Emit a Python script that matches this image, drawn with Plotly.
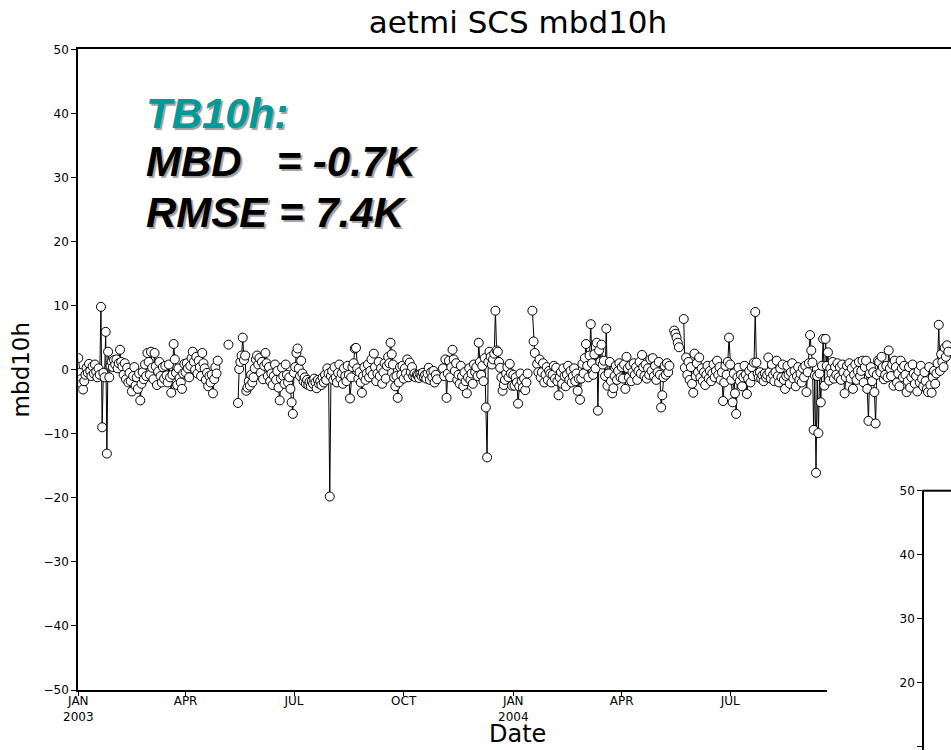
import pandas as pd
import plotly.graph_objects as go

# ---------------- data (daily mbd10h, K) ----------------
start_date = "2003-01-01"

mbd10h_2003 = [
    # Jan
    1.8, -0.5, -1.5, -2.2, -3.1, -1.8, -0.8, 0.3, -0.5, 0.9, -0.2, -1.0, 0.5, -0.6, 0.8, -0.3,
    -1.2, 0.2, -0.8, 9.8, -9.0, -0.5, -1.2, 5.9, -13.1, 2.8, -1.2, 0.6, 1.2, 0.4, 1.5,
    # Feb
    0.8, 1.6, 0.2, 1.0, 3.1, 1.2, 0.5, -0.8, 1.0, -1.5, 0.3, -2.0, -0.5, -1.8, -3.4, -1.0,
    0.4, -2.5, -1.2, -3.0, -0.6, -4.8, -2.2, -0.4, -1.5, 0.8, -1.0, 2.6,
    # Mar
    1.2, -0.8, 2.8, 0.3, -1.5, 2.6, 0.5, -2.4, -0.3, 1.2, -1.0, -2.0, 0.4, -1.4, 0.6, -0.9,
    -2.0, 0.8, -1.2, -3.6, -0.8, 4.0, 1.6, -0.5, -2.4, 0.2, -1.3, -2.0, -3.0, -0.6, 0.9,
    # Apr
    -0.4, 1.0, 0.2, -1.2, 0.6, 1.8, 2.8, 1.2, 0.0, 2.0, -0.6, 1.4, 0.4, -1.0, 2.6, 1.0,
    0.2, -1.6, -0.5, -2.6, -1.0, -2.0, -0.8, -3.7, -1.5, 0.4, -0.6, 1.4, None, None,
    # May
    None, None, None, None, None, None, 3.9, None, None, None, None, None, None, None, -5.2, 0.1,
    1.2, 2.2, 5.0, 1.5, 2.2, -3.3, -2.8, -1.8, -2.5, -0.8, -2.0, -1.2, 0.2, 1.6, 2.2,
    # Jun
    0.8, 1.8, -0.5, 1.2, -1.5, 0.6, 2.6, 1.0, -1.0, 0.4, -1.8, -0.6, -2.4, -1.0, 0.8, -1.6,
    -0.2, -2.8, -4.8, -1.4, 0.3, -1.0, -2.2, 0.8, -0.8, -2.0, -1.2, -3.0, -5.1, -6.9,
    # Jul
    -0.5, 0.4, 2.6, 3.3, 0.2, -1.0, 1.4, -0.6, -1.8, -1.2, -2.2, -1.6, -2.4, -1.9, -2.6, -1.8,
    -2.2, -1.4, -2.0, -2.9, -1.6, -2.2, -1.8, -2.4, -1.2, -2.0, -0.8, -1.6, 0.2, -0.6, -19.8,
    # Aug
    -1.0, -0.2, -1.6, 0.4, -1.2, -2.0, -0.5, 0.8, -1.4, -0.6, -2.2, 0.2, -1.0, -1.8, 0.6, -0.8,
    -4.5, -1.2, 0.4, 1.0, 3.3, 3.4, 0.2, -1.4, -0.4, -2.0, -3.6, -1.0, 0.4, -1.6, -0.6,
    # Sep
    0.8, -1.2, -0.2, 1.6, -0.8, 2.5, 0.4, -1.8, -0.6, 1.2, -1.0, 0.2, -2.2, -0.4, 1.0, -1.4,
    0.6, 2.0, 1.0, 4.2, 2.4, 0.8, -1.2, -2.6, -1.0, -4.4, -2.0, 0.4, -0.8, 0.6,
    # Oct
    -1.4, 0.2, -0.6, 1.6, -1.2, 1.1, -0.4, 0.4, -1.0, -0.6, -1.2, -0.8, -0.9, -1.3, -0.7, -1.0,
    -0.5, -1.1, -0.8, -1.4, -0.6, 0.3, -1.6, -0.4, -1.2, -0.2, -2.0, -0.8, -1.5, None, None,
    # Nov
    None, None, 0.2, -1.0, 1.6, -4.4, -0.6, 1.4, -1.2, 0.4, 3.1, 1.6, -0.2, 1.0, -1.6, -0.8,
    -2.2, 0.6, -1.0, -2.6, -0.4, -1.8, -3.7, -1.2, 0.2, -1.6, -0.6, -2.2, 0.8, -0.4,
    # Dec
    0.4, -1.0, 4.2, 1.2, -0.8, 0.6, -1.8, 1.8, -5.9, -13.7, 1.2, 2.8, 2.0, 0.8, 1.6, 2.5,
    9.2, 3.0, 2.8, 1.2, 0.3, -1.2, -3.3, -2.4, -1.6, -0.6, 0.4, -1.2, 0.9, -0.6, -2.5,
]

mbd10h_2004 = [
    # Jan
    -0.8, -2.5, -1.2, -2.0, -5.3, -2.6, -0.6, -1.8, -2.8, -1.4, -3.2, -2.0, -0.6, None, None, None,
    9.2, 4.4, 2.6, None, 0.9, -0.4, 1.6, -1.2, -0.4, 1.0, -2.0, -0.8, 0.4, -1.6, -0.2,
    # Feb
    -0.6, -2.0, -0.8, 0.6, -1.4, 0.3, -1.8, -4.0, -1.2, -0.4, -2.2, 0.2, -1.0, -2.6, -0.8, 0.6,
    -1.6, -0.2, -2.0, -1.0, 0.2, -1.8, -0.6, -3.3, -1.4, -4.7, -1.4, 0.9, -0.6,
    # Mar
    1.8, 4.0, 0.6, -1.2, 2.2, 7.1, 1.0, -0.8, 2.4, 0.2, 4.2, -6.4, 3.0, 1.2, 3.9, 0.8,
    1.4, -1.0, 6.4, -2.5, -0.6, 1.2, -1.8, -3.7, -2.9, -1.0, 0.6, -1.6, -0.2, 1.0, -1.2,
    # Apr
    0.4, -1.4, 0.8, -3.0, 2.0, 0.2, -1.2, 0.6, -1.8, -0.4, 1.0, -0.8, 0.4, -1.6, -0.2, 1.2,
    -0.6, 2.3, 0.4, -1.0, 0.8, -1.4, 0.2, -0.8, 1.6, -0.2, 1.8, -1.0, 0.6, -1.6,
    # May
    -0.4, 1.2, -0.8, -5.9, -4.0, -1.2, 0.6, -0.8, 1.0, -0.4, 0.6, None, None, None, 6.1, 5.6,
    5.0, 4.2, 3.5, None, None, None, 7.9, 0.3, 1.9, -0.8, 1.2, -1.6, 0.4, -2.2, -3.6,
    # Jun
    2.5, -1.0, 1.0, -0.4, 1.9, -1.2, 0.2, -1.8, -0.4, -2.4, -0.8, 0.6, -1.4, -0.2, -1.8, -0.6,
    0.8, -1.2, -0.2, 1.4, -0.8, 0.4, -1.6, -0.4, -4.9, -2.0, 0.6, -0.8, 1.2, 5.0,
    # Jul
    0.8, -1.6, -5.1, -0.6, -3.7, -6.9, -1.2, 0.3, -1.8, -0.8, -2.6, -1.2, 0.6, -0.8, -3.8, -1.4,
    -0.2, -2.0, 0.4, -1.0, 1.1, 9.0, 1.1, -0.6, -1.2, -0.4, -1.4, -0.9, -1.8, -0.6, -1.2,
    # Aug
    -0.8, 1.9, -0.4, -1.4, 0.8, -0.8, -1.8, -0.4, 1.4, -1.0, -2.0, 0.2, -1.2, 0.8, -1.6, -3.0,
    -1.0, 0.6, -0.8, -2.2, -0.4, 1.0, -1.4, -0.2, -2.6, -1.0, 0.4, -1.6, -0.6, -2.0, 0.2,
    # Sep
    -1.2, 0.6, -3.5, -0.4, 1.0, 5.4, 3.0, 1.1, -9.4, -0.9, -16.1, -1.0, -9.9, -0.6, -5.1, 0.6,
    4.8, -2.5, 4.8, 0.6, 2.7, -1.7, 0.2, -0.6, 1.2, -1.4, 0.4, -0.8, 1.0, -1.2,
    # Oct
    0.4, -1.6, 0.8, -0.4, -3.7, -1.2, 0.6, -0.6, 1.0, -1.4, 0.2, -3.0, -0.8, 0.8, -1.6, -0.2,
    1.2, -1.0, -0.2, 1.4, -2.0, 0.4, 1.4, -3.0, -8.0, -0.6, 0.4, -1.8, -0.4, -3.5, -8.4,
    # Nov
    -0.8, 1.4, 1.2, -0.4, 2.0, 0.4, -1.5, -0.8, 0.6, -1.2, 3.0, 0.2, -1.0, 0.8, -2.5, 1.4,
    0.4, -2.0, -0.6, -2.6, 1.4, 0.2, -1.2, 0.6, -0.8, -3.5, -1.8, 0.4, -2.8, -1.2,
    # Dec
    0.8, -0.6, -2.2, -1.0, -3.4, -0.2, -2.0, 0.6, -1.4, -2.6, -0.4, -1.8, -3.0, -3.5, 0.4, -2.4,
    -3.6, -1.2, -0.2, -2.2, -0.6, 1.0, 7.0, -0.2, 2.4, 1.2, 0.4, 3.4, 2.0, 3.8, 2.8,
]

tick_dates = ["2003-01-01", "2003-04-01", "2003-07-01", "2003-10-01",
              "2004-01-01", "2004-04-01", "2004-07-01", "2004-10-01"]
tick_labels = ["JAN<br>2003", "APR", "JUL", "OCT", "JAN<br>2004", "APR", "JUL", "OCT"]

y_ticks = [-50, -40, -30, -20, -10, 0, 10, 20, 30, 40, 50]
inset_ticks = [10, 20, 30, 40, 50]

title_text = "aetmi SCS mbd10h"
x_title = "Date"
y_title = "mbd10h"
stat_label = "TB10h:"
stat_mbd = "MBD\u00a0\u00a0\u00a0= -0.7K"
stat_rmse = "RMSE = 7.4K"

# ---------------- figure ----------------
values = mbd10h_2003 + mbd10h_2004
dates = pd.date_range(start_date, periods=len(values), freq="D")

W, H = 951, 750


def px(v):
    return v / W


def py(v):
    return 1 - v / H


tick_font = dict(family="DejaVu Sans", size=12, color="black")

fig = go.Figure()
fig.add_trace(go.Scatter(
    x=dates, y=values, mode="lines+markers", connectgaps=False,
    line=dict(color="black", width=1),
    marker=dict(symbol="circle", size=9, color="white", line=dict(color="black", width=1)),
    showlegend=False, hoverinfo="x+y",
))

# white panel of the partly visible second chart (bottom right)
fig.add_trace(go.Scatter(
    x=[0, 1, 1, 0, 0], y=[0, 0, 100, 100, 0], xaxis="x2", yaxis="y2",
    mode="lines", fill="toself", fillcolor="white", line=dict(width=0),
    showlegend=False, hoverinfo="skip",
))

y_top, y_bot = 49.3, 690.0          # page y of +50 / -50
x_left = 78.3                       # page x of 2003-01-01
px_per_day = (513.3 - x_left) / 365.0
unit = (y_bot - y_top) / 100.0
inset_top = 490.7                   # page y of 50 on the inset axis
inset_bottom_val = 50 - (H - inset_top) / unit
x_end = pd.Timestamp(start_date) + pd.Timedelta(days=(W - x_left) / px_per_day)

fig.update_layout(
    width=W, height=H,
    margin=dict(l=0, r=0, t=0, b=0, pad=0),
    paper_bgcolor="white", plot_bgcolor="white",
    title=dict(text=title_text, x=px(518), xanchor="center", y=py(22), yanchor="middle",
               xref="paper", yref="paper",
               font=dict(family="DejaVu Sans", size=31, color="black")),
    xaxis=dict(
        type="date", domain=[px(x_left), 1],
        range=[start_date, x_end.strftime("%Y-%m-%d %H:%M")],
        tickvals=tick_dates, ticktext=tick_labels,
        ticks="outside", ticklen=4, tickwidth=1, tickcolor="black",
        ticklabelstandoff=-5,
        showline=True, linewidth=2, linecolor="black", mirror=True,
        showgrid=False, zeroline=False, automargin=False,
        tickfont=tick_font,
    ),
    yaxis=dict(
        domain=[py(y_bot), py(y_top)], range=[-50, 50],
        tickvals=y_ticks,
        ticks="outside", ticklen=5, tickwidth=1, tickcolor="black",
        showline=True, linewidth=2, linecolor="black",
        showgrid=False, zeroline=False, automargin=False,
        tickfont=tick_font,
        title=dict(text=y_title, font=dict(family="DejaVu Sans", size=23, color="black"), standoff=8),
    ),
    xaxis2=dict(domain=[px(827), 1], range=[0, 1], visible=False, anchor="y2"),
    yaxis2=dict(
        domain=[0, py(inset_top)], range=[inset_bottom_val, 50], anchor="free", position=px(923.3),
        tickvals=inset_ticks,
        ticks="outside", ticklen=5, tickwidth=1, tickcolor="black",
        showline=True, linewidth=2, linecolor="black",
        showgrid=False, zeroline=False, automargin=False,
        tickfont=tick_font,
    ),
    shapes=[dict(type="line", xref="paper", yref="paper",
                 x0=px(922.3), x1=1, y0=py(inset_top), y1=py(inset_top),
                 line=dict(color="black", width=2), layer="above")],
)

# x-axis title
fig.add_annotation(text=x_title, xref="paper", yref="paper", x=px(517), y=py(734),
                   xanchor="center", yanchor="middle", showarrow=False,
                   font=dict(family="DejaVu Sans", size=24, color="black"))

shadow = "2px 2px 1px #a0a0a0"
for txt, yc, col in [(stat_label, 113, "#009999"), (stat_mbd, 162, "black"), (stat_rmse, 212.5, "black")]:
    fig.add_annotation(
        text=txt, xref="paper", yref="paper", x=px(144), y=py(yc),
        xanchor="left", yanchor="middle", showarrow=False,
        font=dict(family="Liberation Sans", size=42, color=col, weight="bold",
                  style="italic", shadow=shadow),
    )

fig.write_html("out.html", config={"displayModeBar": False},
               post_script="document.body.style.margin='0';document.body.style.overflow='hidden';")
